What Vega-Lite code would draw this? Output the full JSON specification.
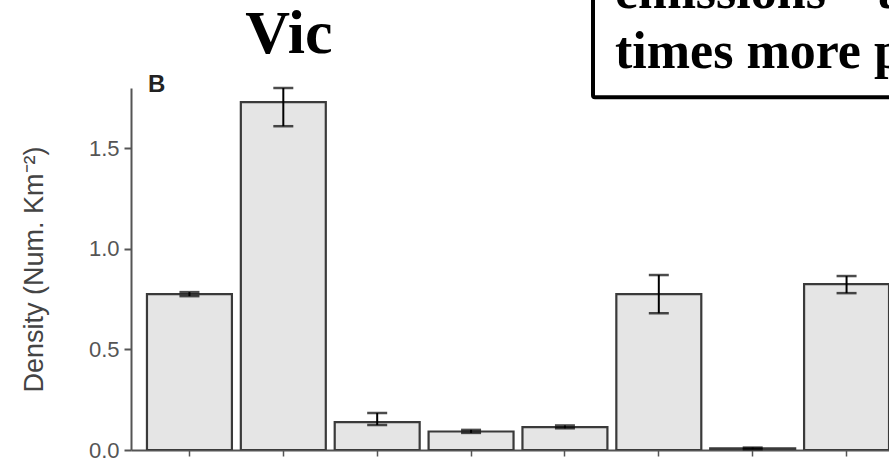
{
  "$schema": "https://vega.github.io/schema/vega-lite/v6.json",
  "width": 758,
  "height": 362,
  "autosize": "none",
  "padding": {"left": 131, "top": 88, "right": 0, "bottom": 15},
  "background": "white",
  "config": {"view": {"stroke": null}, "axis": {"grid": false}},
  "layer": [
    {
      "data": {
        "values": [
          {"site": "S1", "density": 0.775, "lo": 0.765, "hi": 0.785},
          {"site": "S2", "density": 1.73, "lo": 1.61, "hi": 1.8},
          {"site": "S3", "density": 0.139, "lo": 0.124, "hi": 0.184},
          {"site": "S4", "density": 0.092, "lo": 0.085, "hi": 0.1},
          {"site": "S5", "density": 0.114, "lo": 0.108, "hi": 0.122},
          {"site": "S6", "density": 0.775, "lo": 0.68, "hi": 0.87},
          {"site": "S7", "density": 0.008, "lo": 0.004, "hi": 0.012},
          {"site": "S8", "density": 0.825, "lo": 0.78, "hi": 0.865}
        ]
      },
      "layer": [
        {
          "mark": {"type": "bar", "fill": "#e5e5e5", "stroke": "#3a3a3a", "strokeWidth": 2.2, "clip": true},
          "encoding": {
            "x": {
              "field": "site",
              "type": "nominal",
              "sort": null,
              "scale": {"range": [0, 774], "paddingInner": 0.095, "paddingOuter": 0.17},
              "axis": {
                "labels": false,
                "title": null,
                "tickSize": 6,
                "tickWidth": 1.5,
                "tickColor": "#555",
                "domainColor": "#555",
                "domainWidth": 2
              }
            },
            "y": {
              "field": "density",
              "type": "quantitative",
              "scale": {"domain": [0, 1.8], "nice": false},
              "axis": {
                "values": [0, 0.5, 1, 1.5],
                "format": ".1f",
                "title": "Density (Num. Km⁻²)",
                "labelFont": "Liberation Sans",
                "labelFontSize": 22,
                "labelColor": "#555",
                "tickSize": 7,
                "tickWidth": 2,
                "tickColor": "#555",
                "domainColor": "#555",
                "domainWidth": 2,
                "labelPadding": 5,
                "titleFont": "Liberation Sans",
                "titleFontSize": 27,
                "titleFontWeight": "normal",
                "titleColor": "#444",
                "titlePadding": 40
              }
            }
          }
        },
        {
          "mark": {"type": "rule", "color": "black", "strokeWidth": 2},
          "encoding": {
            "x": {"field": "site", "type": "nominal", "sort": null},
            "y": {"field": "lo", "type": "quantitative"},
            "y2": {"field": "hi"}
          }
        },
        {
          "mark": {"type": "tick", "color": "black", "thickness": 2.5, "size": 20},
          "encoding": {
            "x": {"field": "site", "type": "nominal", "sort": null},
            "y": {"field": "lo", "type": "quantitative"}
          }
        },
        {
          "mark": {"type": "tick", "color": "black", "thickness": 2.5, "size": 20},
          "encoding": {
            "x": {"field": "site", "type": "nominal", "sort": null},
            "y": {"field": "hi", "type": "quantitative"}
          }
        }
      ]
    },
    {
      "data": {"values": [{}]},
      "mark": {"type": "rect", "fill": "white", "stroke": "black", "strokeWidth": 4, "cornerRadius": 2},
      "encoding": {
        "x": {"datum": 0.6095, "type": "quantitative", "scale": {"domain": [0, 1]}, "axis": null},
        "x2": {"datum": 1.1},
        "y": {"datum": 1.754, "type": "quantitative", "scale": {"domain": [0, 1.8], "nice": false}},
        "y2": {"datum": 2.5}
      }
    },
    {
      "data": {"values": [{}]},
      "mark": {
        "type": "text",
        "text": ["emissions – a", "times more p"],
        "lineHeight": 60,
        "align": "left",
        "baseline": "alphabetic",
        "font": "Liberation Serif",
        "fontSize": 52,
        "fontWeight": "bold",
        "color": "black"
      },
      "encoding": {
        "x": {"datum": 0.6385, "type": "quantitative", "scale": {"domain": [0, 1]}, "axis": null},
        "y": {"datum": 2.196, "type": "quantitative", "scale": {"domain": [0, 1.8], "nice": false}}
      }
    },
    {
      "data": {"values": [{}]},
      "mark": {
        "type": "text",
        "text": "Vic",
        "align": "center",
        "baseline": "alphabetic",
        "font": "Liberation Serif",
        "fontSize": 62,
        "fontWeight": "bold",
        "color": "black"
      },
      "encoding": {
        "x": {"datum": 0.2084, "type": "quantitative", "scale": {"domain": [0, 1]}, "axis": null},
        "y": {"datum": 1.972, "type": "quantitative", "scale": {"domain": [0, 1.8], "nice": false}}
      }
    },
    {
      "data": {"values": [{}]},
      "mark": {
        "type": "text",
        "text": "B",
        "align": "left",
        "baseline": "alphabetic",
        "font": "Liberation Sans",
        "fontSize": 24,
        "fontWeight": "bold",
        "color": "#222"
      },
      "encoding": {
        "x": {"datum": 0.0224, "type": "quantitative", "scale": {"domain": [0, 1]}, "axis": null},
        "y": {"datum": 1.778, "type": "quantitative", "scale": {"domain": [0, 1.8], "nice": false}}
      }
    }
  ],
  "resolve": {"scale": {"x": "independent"}}
}
